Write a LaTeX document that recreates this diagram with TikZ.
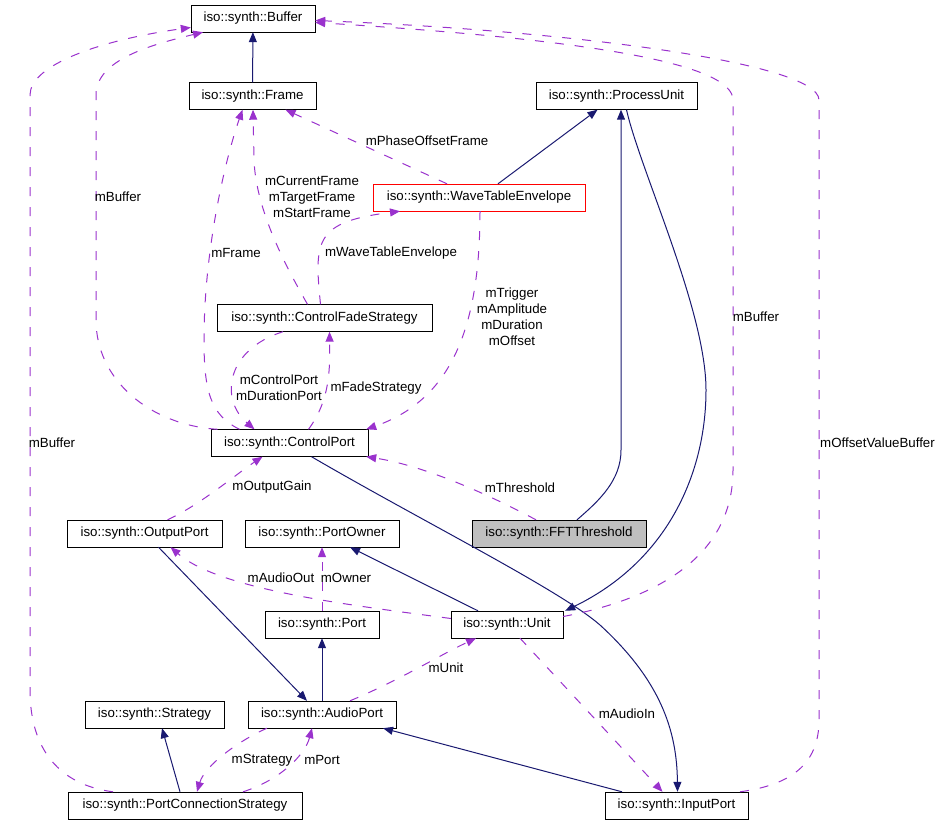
\documentclass[tikz,border=0pt]{standalone}
\usepackage{fontspec}
\setmainfont{Liberation Sans}
\usetikzlibrary{arrows.meta}
\definecolor{inhblue}{HTML}{191970}
\definecolor{usepurple}{HTML}{9A32CD}
\tikzset{
    cls/.style={draw, minimum height=27pt, inner sep=0pt, font=\fontsize{13.3}{16}\selectfont},
    inh/.style={inhblue, line width=1pt, -{Triangle[length=10pt,width=8pt]}},
    use/.style={usepurple, line width=1pt, dash pattern=on 9pt off 11pt, -{Triangle[length=10pt,width=8pt]}},
    lbl/.style={font=\fontsize{13.3}{16}\selectfont, align=center, inner sep=0pt}
}
\begin{document}
\begin{tikzpicture}[x=1pt, y=-1pt]
    \useasboundingbox (0,0) rectangle (944,824);
    % classes
    \foreach \n/\x/\y/\w/\t in {buffer/253/18.5/124/Buffer, frame/252.5/96/127/Frame, pu/616.5/96/161/ProcessUnit,
        cfs/324.5/318/215/ControlFadeStrategy, cport/289.5/443/157/ControlPort, oport/144.5/533.5/155/OutputPort,
        powner/322/533.5/154/PortOwner, port/322/624.5/114/Port, unit/507/624.5/112/Unit, strat/154.5/714.5/139/Strategy,
        aport/322/714.5/148/AudioPort, pcs/185/805.5/234/PortConnectionStrategy, iport/676.5/805.5/143/InputPort}
        \node[cls, minimum width=\w pt] (\n) at (\x,\y) {iso::synth::\t};
    \node[cls, draw=red, minimum width=212pt] (wte) at (479,197.5) {iso::synth::WaveTableEnvelope};
    \node[cls, fill=black!25, minimum width=174pt] (fft) at (559,533.5) {iso::synth::FFTThreshold};
    % inheritance
    \draw[inh] (frame) -- (buffer);
    \draw[inh] ([xshift=19pt]wte.north) -- ([xshift=-19pt]pu.south);
    \draw[inh] ([xshift=18pt]fft.north) .. controls (600,500) and (621,480) .. (621,450) -- ([xshift=4.5pt]pu.south);
    \draw[inh] ([xshift=10pt]pu.south) .. controls (640,170) and (706,310) .. (706,390) .. controls (706,470) and (670,560) .. ([xshift=2pt]unit.north east);
    \draw[inh] ([xshift=-29pt]unit.north) -- ([xshift=28pt]powner.south);
    \draw[inh] ([xshift=14pt]oport.south) -- ([xshift=-15pt]aport.north);
    \draw[inh] (aport) -- (port);
    \draw[inh] ([xshift=-5pt]pcs.north) -- ([xshift=7.5pt]strat.south);
    \draw[inh] ([xshift=-54.5pt]iport.north) -- ([xshift=61pt]aport.south);
    \draw[inh] ([xshift=22pt]cport.south) .. controls (420,520) and (560,590) .. (600,625) .. controls (660,680) and (677,730) .. ([xshift=1pt]iport.north);
    % members
    \draw[use] ([xshift=-72pt]cport.north) .. controls (150,425) and (96,380) .. (96,320) -- (96,95) .. controls (96,60) and (150,45) .. ([xshift=-50pt]buffer.south);
    \draw[use] ([xshift=-72pt]pcs.north) .. controls (60,785) and (30,750) .. (30,690) -- (30,95) .. controls (30,65) and (100,40) .. ([yshift=-9pt]buffer.west);
    \draw[use] ([yshift=8pt]unit.east) .. controls (650,600) and (733,560) .. (733,470) -- (733,100) .. controls (733,65) and (600,40) .. ([yshift=-4pt]buffer.east);
    \draw[use] ([xshift=63.5pt]iport.north) .. controls (790,785) and (819,765) .. (819,720) -- (819,100) .. controls (819,62) and (560,30) .. ([yshift=-2pt]buffer.east);
    \draw[use] ([xshift=-32pt]wte.north) -- ([xshift=33pt]frame.south);
    \draw[use] ([xshift=-17pt]cfs.north) .. controls (285,265) and (256,210) .. (254,160) -- ([xshift=0.5pt]frame.south);
    \draw[use] ([xshift=-50pt]cport.north) .. controls (210,415) and (204,390) .. (204,340) .. controls (204,250) and (225,160) .. ([xshift=-10pt]frame.south);
    \draw[use] ([xshift=-4pt]cfs.north) .. controls (314,240) and (315,222) .. ([xshift=-79pt]wte.south);
    \draw[use] ([xshift=1pt]wte.south) .. controls (480,330) and (450,400) .. ([xshift=-2pt]cport.north east);
    \draw[use] ([xshift=-41.5pt]cfs.south) .. controls (225,350) and (220,400) .. ([xshift=-35pt]cport.north);
    \draw[use] ([xshift=19pt]cport.north) .. controls (330,400) and (330,370) .. ([xshift=5pt]cfs.south);
    \draw[use] ([xshift=-23pt]fft.north) .. controls (480,490) and (420,465) .. ([xshift=-2pt]cport.south east);
    \draw[use] ([xshift=23pt]oport.north) .. controls (200,505) and (235,475) .. ([xshift=-27pt]cport.south);
    \draw[use] ([yshift=6pt]unit.west) .. controls (350,605) and (220,590) .. ([xshift=26pt]oport.south);
    \draw[use] (port) -- (powner);
    \draw[use] ([xshift=28pt]aport.north) .. controls (400,680) and (440,655) .. ([xshift=-31pt]unit.south);
    \draw[use] ([xshift=13pt]unit.south) -- ([xshift=-14pt]iport.north);
    \draw[use] ([xshift=-55pt]aport.south) .. controls (240,740) and (205,765) .. ([xshift=12pt]pcs.north);
    \draw[use] ([xshift=58pt]pcs.north) .. controls (280,780) and (305,755) .. ([xshift=-10pt]aport.south);
    % labels
    \foreach \x/\y/\t [count=\i] in {118/197/mBuffer, 52/443/mBuffer, 756/317/mBuffer, 877.5/443/mOffsetValueBuffer,
        427/141/mPhaseOffsetFrame, 312/197/{mCurrentFrame\\mTargetFrame\\mStartFrame}, 236/253/mFrame,
        391/253/mWaveTableEnvelope, 512/317/{mTrigger\\mAmplitude\\mDuration\\mOffset}, 279/388/{mControlPort\\mDurationPort},
        376/388/mFadeStrategy, 520/488/mThreshold, 272/487/mOutputGain, 281/578/mAudioOut, 346/578/mOwner,
        446/668/mUnit, 627/714/mAudioIn, 262/760/mStrategy, 322/760/mPort}
        \node[lbl] (lbl\i) at (\x,\y) {\t};
\end{tikzpicture}
\end{document}
